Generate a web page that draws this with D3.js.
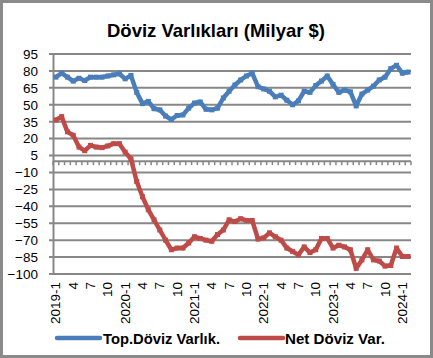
<!DOCTYPE html>
<html><head><meta charset="utf-8">
<script src="https://cdn.jsdelivr.net/npm/d3@7/dist/d3.min.js"></script>
<style>body{margin:0;background:#fff}svg{display:block}</style>
</head><body>
<script>
const title = "Döviz Varlıkları (Milyar $)";
const seriesNames = ["Top.Döviz Varlık.", "Net Döviz Var."];
const months = [];
for (let y = 2019; y <= 2024; y++) for (let m = 1; m <= 12; m++) { if (y === 2024 && m > 2) break; months.push(y + "-" + m); }
const totalFx = [74.5,78,74.5,71,73.5,71.5,74.5,74.5,74.5,75.5,
  76.5,77.5,73,76,61,51,53,46.5,45.5,40,37,40.5,41,47,51.5,52.5,46,45.5,47,56,
  62,67.5,72,75.5,78,66,64,62,57,58.5,54,50,53.5,62,61,67,71,75.5,68,61,
  63,61.5,49,59.5,63,66.5,72,74.5,82,85,78,79];
const netFx = [36.5,39.5,26,23,12.5,9.3,14,12.5,12,13.5,15.5,15.5,8,2,-18,-31.5,-43,-52,-61,-70,
  -78.5,-77,-77,-72.5,-67,-68.5,-70,-71,-65,-61,-52,-53.5,-51,-52.5,-52.5,-69,-68,-63.5,-67,-70,
  -77,-80,-83,-76,-81,-78.5,-68.5,-68.5,-77,-74.5,-76,-78.5,-95,-87.5,-78.5,-87.5,-88.5,-93,-92.5,-77,
  -84.5,-84.5];
const yTicks = [95,80,65,50,35,20,5,-10,-25,-40,-55,-70,-85,-100];

const W = 433, H = 358;
const m = {left:53, right:411, top:54, bottom:274};
const colors = ["#4A7EBB", "#BE4B48"];
const gridColor = "#878787";

const svg = d3.select("body").append("svg").attr("width", W).attr("height", H);
svg.append("rect").attr("x",1.5).attr("y",1.5).attr("width",W-3).attr("height",H-3)
  .attr("fill","#fff").attr("stroke","#8a8a8a").attr("stroke-width",3);

const x = d3.scaleBand().domain(months).range([m.left, m.right]);
const y = d3.scaleLinear().domain([-100,95]).range([m.bottom, m.top]);

// gridlines
svg.append("g").selectAll("line").data(yTicks).join("line")
  .attr("x1", m.left-4).attr("x2", m.right)
  .attr("y1", d=>y(d)).attr("y2", d=>y(d))
  .attr("stroke", gridColor).attr("stroke-width", 2);

// y axis
const yAxis = svg.append("g").attr("transform", `translate(${m.left},0)`)
  .call(d3.axisLeft(y).tickValues(yTicks).tickSize(0).tickPadding(15));
yAxis.select(".domain").attr("stroke", gridColor).attr("stroke-width", 2);
yAxis.selectAll("text").attr("font-family","Liberation Sans, Arial, sans-serif").attr("font-size",13.5).attr("fill","#000");

// x axis at zero with minor ticks
const y0 = y(0);
svg.append("line").attr("x1",m.left).attr("x2",m.right).attr("y1",y0).attr("y2",y0)
  .attr("stroke",gridColor).attr("stroke-width",2);
const bounds = months.map(d=>x(d)).concat([m.right]);
svg.append("g").selectAll("line").data(bounds).join("line")
  .attr("x1",d=>d).attr("x2",d=>d).attr("y1",y0).attr("y2",y0+4)
  .attr("stroke",gridColor).attr("stroke-width",1.5);

// x labels
const labelMonths = months.filter((d,i)=>i%3===0);
const fmt = d => { const p = d.split("-"); return p[1] === "1" ? d : p[1]; };
svg.append("g").selectAll("text").data(labelMonths).join("text")
  .attr("transform", d=>`translate(${x(d)+x.bandwidth()/2+4.5},${282}) rotate(-90)`)
  .attr("text-anchor","end")
  .attr("font-family","Liberation Sans, Arial, sans-serif").attr("font-size",13.5).attr("fill","#000")
  .text(fmt);

// series
const line = d3.line().x((d,i)=>x(months[i])+x.bandwidth()/2).y(d=>y(d));
[totalFx, netFx].forEach((s,k)=>{
  svg.append("path").datum(s).attr("d", line).attr("fill","none")
    .attr("stroke", colors[k]).attr("stroke-width",4.5).attr("stroke-linejoin","round");
  svg.append("g").selectAll("rect").data(s).join("rect")
    .attr("x",(d,i)=>x(months[i])+x.bandwidth()/2-2.5).attr("y",d=>y(d)-2.5)
    .attr("width",5).attr("height",5).attr("fill",colors[k]);
});

// title
svg.append("text").attr("x",216).attr("y",37).attr("text-anchor","middle")
  .attr("font-family","Liberation Sans, Arial, sans-serif").attr("font-weight","bold").attr("font-size",18.5)
  .attr("textLength",218).attr("lengthAdjust","spacingAndGlyphs")
  .text(title);

// legend
const leg = [{x1:57,x2:100,tx:103,tw:117},{x1:240,x2:283,tx:285,tw:100}];
leg.forEach((l,k)=>{
  svg.append("line").attr("x1",l.x1).attr("x2",l.x2).attr("y1",338).attr("y2",338)
    .attr("stroke",colors[k]).attr("stroke-width",4.5).attr("stroke-linecap","round");
  svg.append("text").attr("x",l.tx).attr("y",343.5)
    .attr("font-family","Liberation Sans, Arial, sans-serif").attr("font-weight","bold").attr("font-size",15.5)
    .attr("textLength",l.tw).attr("lengthAdjust","spacingAndGlyphs")
    .text(seriesNames[k]);
});
</script>
</body></html>
